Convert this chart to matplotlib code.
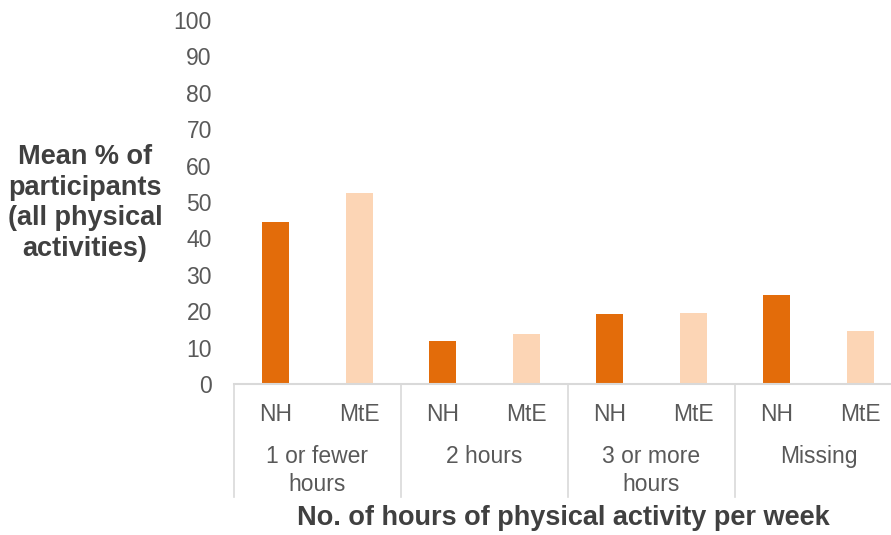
import numpy as np
import matplotlib.pyplot as plt
from matplotlib.transforms import blended_transform_factory

groups = ['1 or fewer\nhours', '2 hours', '3 or more\nhours', 'Missing']
series = ['NH', 'MtE']
nh_vals = [44.5, 11.8, 19.2, 24.5]
mte_vals = [52.5, 13.7, 19.5, 14.6]
yticks = list(range(0, 101, 10))

c_nh = '#E36C0A'
c_mte = '#FCD5B5'
txt = '#595959'

W, H = 891, 535
fig = plt.figure(figsize=(W / 100, H / 100), dpi=100)
plt.rcParams['font.family'] = ['Liberation Sans', 'DejaVu Sans']

ax = fig.add_axes([234 / W, (H - 384) / H, 668 / W, 364 / H])

n = len(groups)
x_nh = np.arange(n) * 2
x_mte = x_nh + 1
ax.bar(x_nh, nh_vals, width=0.32, color=c_nh, zorder=2)
ax.bar(x_mte, mte_vals, width=0.32, color=c_mte, zorder=2)

ax.set_xlim(-0.5, 2 * n - 0.5)
ax.set_ylim(0, 100)
ax.set_yticks(yticks)
ax.tick_params(axis='y', length=0, pad=16, labelsize=16.5, labelcolor=txt)

for s in ['top', 'right', 'left']:
    ax.spines[s].set_visible(False)
ax.spines['bottom'].set_color('#d9d9d9')
ax.spines['bottom'].set_linewidth(1.5)

# sub-category labels
xs = np.arange(2 * n)
ax.set_xticks(xs)
ax.set_xticklabels(series * n)
ax.tick_params(axis='x', length=0, pad=14, labelsize=16.5, labelcolor=txt)

# group labels and separators
trans = blended_transform_factory(ax.transData, ax.transAxes)
for i, g in enumerate(groups):
    ax.annotate(g, xy=(2 * i + 0.5, 0), xycoords=trans, xytext=(0, -44),
                textcoords='offset points', ha='center', va='top',
                fontsize=16.5, color=txt, linespacing=1.25)
bottom = -(497 - 384) / 364
for b in np.arange(n + 1) * 2 - 0.5:
    ax.plot([b, b], [0, bottom], transform=trans, color='#d9d9d9',
            lw=1.2, clip_on=False)

fig.text(85 / W, 1 - 203 / H, 'Mean % of\nparticipants\n(all physical\nactivities)',
         ha='center', va='center', multialignment='center', fontsize=19.5,
         fontweight='bold', color='#404040', linespacing=1.22)
fig.text(563 / W, 1 - 518 / H, 'No. of hours of physical activity per week',
         ha='center', va='center', fontsize=19.5, fontweight='bold', color='#404040')

fig.savefig('out.png', dpi=100)
